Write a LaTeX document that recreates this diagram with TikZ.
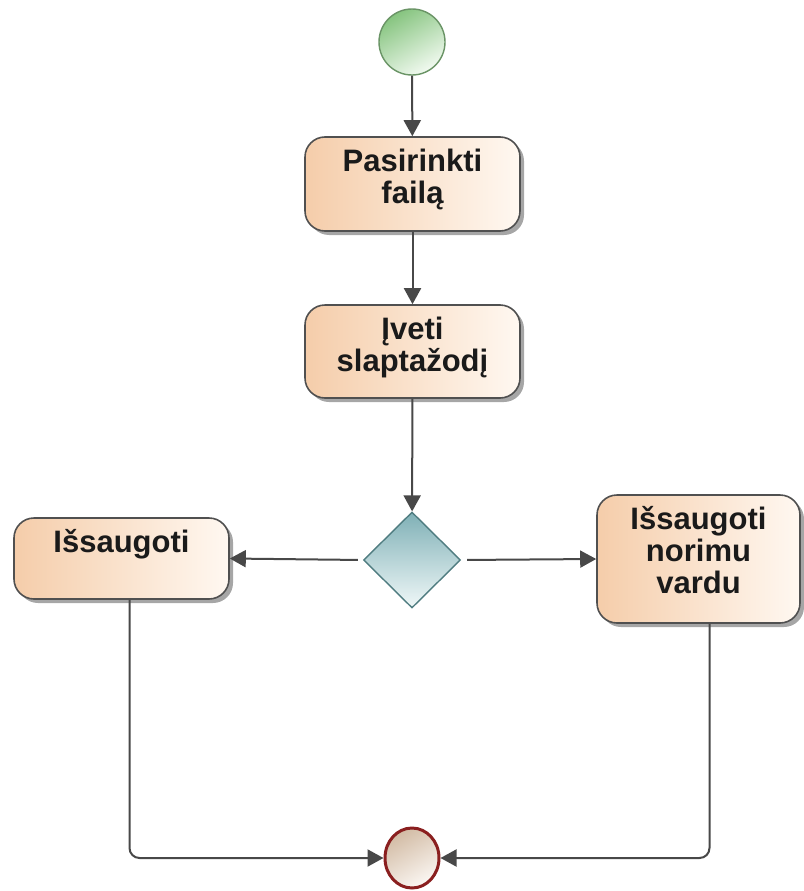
\documentclass[tikz,border=0pt]{standalone}
\usepackage{fontspec}
\setmainfont{Liberation Sans}
\usetikzlibrary{arrows.meta,shapes.geometric,calc,shadows}

\definecolor{edgecol}{HTML}{484848}
\definecolor{boxL}{HTML}{F5CDAA}
\definecolor{boxR}{HTML}{FFF8F1}
\definecolor{boxline}{HTML}{505050}
\definecolor{startA}{HTML}{86C47F}
\definecolor{startB}{HTML}{F2FAF1}
\definecolor{startline}{HTML}{6A9466}
\definecolor{decA}{HTML}{7FB0B6}
\definecolor{decB}{HTML}{F0F8F8}
\definecolor{decline}{HTML}{4F7C80}
\definecolor{endA}{HTML}{D2BBA4}
\definecolor{endB}{HTML}{FBF7F3}
\definecolor{endline}{HTML}{8A1F1F}
\definecolor{txt}{HTML}{1A1A1A}

\newcommand\firstline{\rule{0pt}{25pt}}

\tikzset{
  activity/.style={rectangle, rounded corners=20pt, draw=boxline, line width=1.6pt,
    left color=boxL, right color=boxR, inner sep=0pt,
    drop shadow={shadow xshift=4pt, shadow yshift=-4pt, fill=black, opacity=.35}},
  lbl/.style={inner sep=0pt, align=center, text=txt,
    font=\fontsize{31}{32}\selectfont\bfseries},
  flow/.style={draw=edgecol, line width=2pt,
    -{Triangle[length=16pt,width=17pt]}},
}

\begin{document}
\begin{tikzpicture}[x=1pt,y=-1pt]
\useasboundingbox (0,0) rectangle (803,891);

% initial node
\node[circle, draw=startline, line width=1.4pt, minimum size=66pt, inner sep=0pt,
      top color=startA, bottom color=startB, shading angle=30] (start) at (412,42) {};

% actions
\node[activity, minimum width=215pt, minimum height=94pt] (pick) at (412.5,184) {};
\node[lbl, anchor=north] (pickT) at ($(pick.north)+(0,10)$) {\firstline Pasirinkti\\failą};

\node[activity, minimum width=215pt, minimum height=93pt] (pwd) at (412.5,351.5) {};
\node[lbl, anchor=north] (pwdT) at ($(pwd.north)+(0,10)$) {\firstline Įveti\\slaptažodį};

% decision
\node[diamond, draw=decline, line width=1.4pt, minimum width=97pt, minimum height=96pt,
      inner sep=0pt, top color=decA, bottom color=decB] (dec) at (412,560) {};

\node[activity, minimum width=215pt, minimum height=81pt] (save) at (121.5,558.5) {};
\node[lbl, anchor=north] (saveT) at ($(save.north)+(0,10)$) {\firstline Išsaugoti};

\node[activity, minimum width=203pt, minimum height=128pt] (saveas) at (698.5,559) {};
\node[lbl, anchor=north] (saveasT) at ($(saveas.north)+(0,10)$) {\firstline Išsaugoti\\norimu\\vardu};

% final node
\node[ellipse, draw=endline, line width=3pt, minimum width=54pt, minimum height=60pt,
      inner sep=0pt, top color=endA, bottom color=endB, shading angle=30] (end) at (412,858) {};

% control flow
\draw[flow] (start) -- (pick);
\draw[flow] (pick) -- (pwd);
\draw[flow] (pwd) -- (dec);
\draw[flow, shorten <=5pt] (dec.west) -- (save.east);
\draw[flow, shorten <=6pt] (dec.east) -- (saveas.west);
\draw[flow, rounded corners=10pt] ([xshift=8pt]save.south) |- (end.west);
\draw[flow, rounded corners=10pt] ([xshift=11pt]saveas.south) |- (end.east);
\end{tikzpicture}
\end{document}
